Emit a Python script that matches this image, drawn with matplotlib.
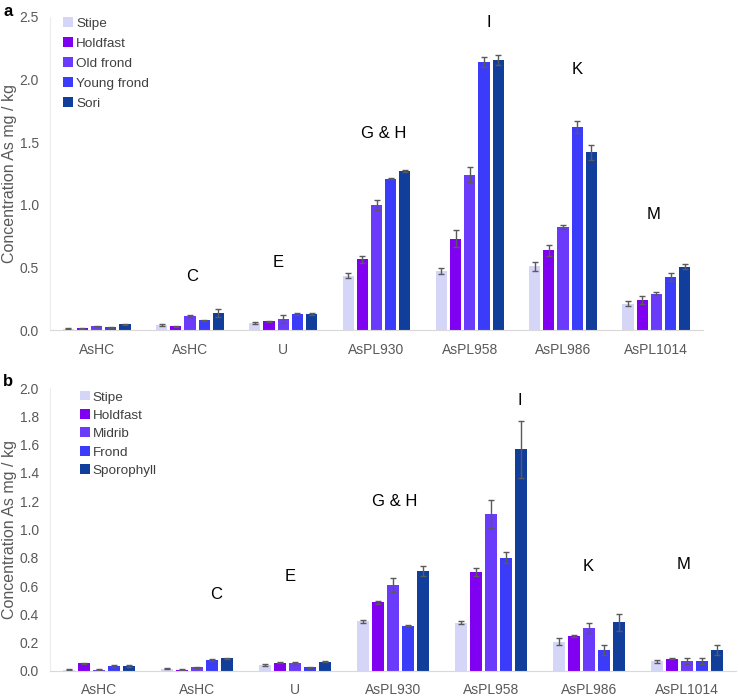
import matplotlib
matplotlib.use('Agg')
import matplotlib.pyplot as plt
import numpy as np

plt.rcParams['font.family'] = ['Liberation Sans', 'DejaVu Sans']

sites = ['AsHC', 'AsHC', 'U', 'AsPL930', 'AsPL958', 'AsPL986', 'AsPL1014']
colors = ['#d5d5f7', '#8000f2', '#6a3bfb', '#3b3bfa', '#113e9b']

# panel a
parts_a = ['Stipe', 'Holdfast', 'Old frond', 'Young frond', 'Sori']
vals_a = [
    [0.01, 0.04, 0.055, 0.435, 0.47, 0.51, 0.21],
    [0.015, 0.03, 0.068, 0.565, 0.73, 0.635, 0.24],
    [0.03, 0.115, 0.088, 1.0, 1.24, 0.82, 0.29],
    [0.02, 0.078, 0.128, 1.21, 2.14, 1.62, 0.425],
    [0.045, 0.135, 0.125, 1.27, 2.16, 1.42, 0.505],
]
err_a = [
    [0.003, 0.005, 0.005, 0.02, 0.025, 0.035, 0.02],
    [0.004, 0.005, 0.005, 0.03, 0.07, 0.045, 0.03],
    [0.005, 0.008, 0.035, 0.04, 0.06, 0.015, 0.01],
    [0.004, 0.005, 0.01, 0.005, 0.04, 0.05, 0.03],
    [0.005, 0.035, 0.008, 0.01, 0.04, 0.06, 0.02],
]
labels_a = ['C', 'E', 'G & H', 'I', 'K', 'M']
lab_x_a = [1.02, 1.95, 3.08, 4.2, 5.15, 5.97]
lab_y_a = [0.43, 0.54, 1.57, 2.46, 2.08, 0.92]

# panel b
parts_b = ['Stipe', 'Holdfast', 'Midrib', 'Frond', 'Sporophyll']
vals_b = [
    [0.01, 0.015, 0.042, 0.35, 0.34, 0.207, 0.07],
    [0.054, 0.01, 0.059, 0.485, 0.70, 0.247, 0.087],
    [0.01, 0.025, 0.055, 0.605, 1.11, 0.304, 0.07],
    [0.035, 0.078, 0.025, 0.32, 0.80, 0.148, 0.07],
    [0.035, 0.09, 0.065, 0.707, 1.567, 0.344, 0.148],
]
err_b = [
    [0.003, 0.003, 0.01, 0.01, 0.01, 0.025, 0.01],
    [0.004, 0.003, 0.005, 0.01, 0.03, 0.005, 0.005],
    [0.003, 0.004, 0.012, 0.05, 0.1, 0.035, 0.02],
    [0.004, 0.004, 0.003, 0.005, 0.04, 0.035, 0.02],
    [0.004, 0.004, 0.004, 0.038, 0.2, 0.06, 0.035],
]
labels_b = ['C', 'E', 'G & H', 'I', 'K', 'M']
lab_x_b = [1.2, 1.95, 3.02, 4.29, 4.99, 5.96]
lab_y_b = [0.54, 0.67, 1.2, 1.91, 0.735, 0.756]


def draw_panel(ax, parts, vals, errs, labels, lab_x, lab_y, ymax, step, leg_anchor, leg_space):
    x = np.arange(len(sites))
    width = 0.12
    pitch = 0.152
    for i, part in enumerate(parts):
        pos = x + (i - 2) * pitch
        ax.bar(pos, vals[i], width, color=colors[i], label=part,
               yerr=errs[i], capsize=2.5,
               error_kw=dict(ecolor='#5a5a5a', elinewidth=1, capthick=1))
    for t, lx, ly in zip(labels, lab_x, lab_y):
        ax.text(lx, ly, t, ha='center', va='center', fontsize=12, color='black')
    ax.set_xlim(-0.5, len(sites) - 0.5)
    ax.set_ylim(0, ymax)
    ax.set_yticks(np.arange(0, ymax + step / 2, step))
    ax.yaxis.set_major_formatter(matplotlib.ticker.FormatStrFormatter('%.1f'))
    ax.set_xticks(x)
    ax.set_xticklabels(sites)
    ax.tick_params(axis='both', length=0, labelsize=10, colors='#595959')
    ax.tick_params(axis='y', pad=8)
    ax.tick_params(axis='x', pad=9)
    ax.set_ylabel('Concentration As mg / kg', fontsize=11.5, color='#595959', labelpad=2)
    for s in ['top', 'right']:
        ax.spines[s].set_visible(False)
    ax.spines['left'].set_color('#ececec')
    ax.spines['bottom'].set_color('#d9d9d9')
    leg = ax.legend(loc='upper left', bbox_to_anchor=leg_anchor, frameon=False,
                    fontsize=9.7, handlelength=0.65, handleheight=0.65,
                    handletextpad=0.3, labelspacing=leg_space, labelcolor='#404040')
    for h in leg.legend_handles:
        h.set_height(7)
        h.set_width(7)


fig = plt.figure(figsize=(7.39, 6.96), dpi=100)
ax1 = fig.add_axes([50 / 739, 1 - 330 / 696, 653 / 739, 313 / 696])
ax2 = fig.add_axes([50 / 739, 1 - 671 / 696, 686 / 739, 283 / 696])

draw_panel(ax1, parts_a, vals_a, err_a, labels_a, lab_x_a, lab_y_a, 2.5, 0.5,
           (0.002, 1.036), 0.58)
draw_panel(ax2, parts_b, vals_b, err_b, labels_b, lab_x_b, lab_y_b, 2.0, 0.2,
           (0.026, 1.031), 0.46)

fig.text(3 / 739, 1 - 12 / 696, 'a', fontsize=12, fontweight='bold', va='center')
fig.text(3 / 739, 1 - 382 / 696, 'b', fontsize=12, fontweight='bold', va='center')

fig.savefig('out.png', dpi=100)
